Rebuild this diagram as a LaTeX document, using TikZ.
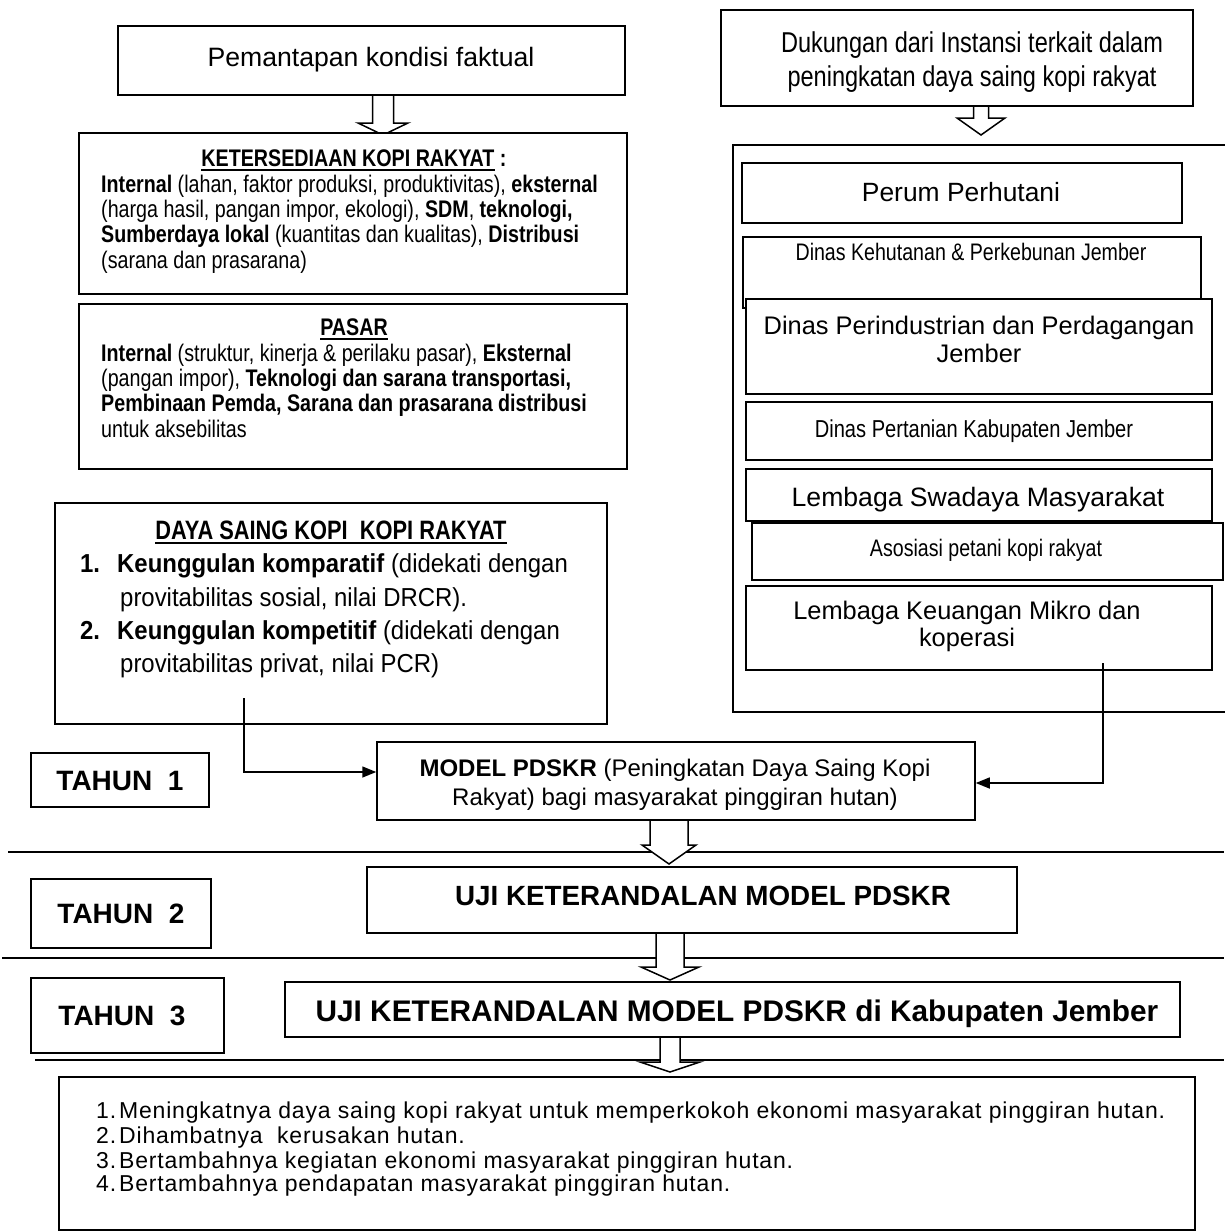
\documentclass[tikz,border=0pt]{standalone}
\usepackage{fontspec}
\setmainfont{Liberation Sans}
\newfontfamily\fN[FakeStretch=0.82]{Liberation Sans}
\newfontfamily\fM[FakeStretch=0.92]{Liberation Sans}
\newfontfamily\fS[LetterSpace=3.5]{Liberation Sans}
\usetikzlibrary{arrows.meta,fit}
\newcommand\fsz[1]{\fontsize{#1}{#1}\selectfont}
\newcommand\uline[1]{\leavevmode\vtop{\hbox{#1}\kern2.2pt\hrule height 1.6pt}}
\newcommand\harrow[6]{\draw[harr] (#1-#5,#2) -- (#1-#5,#3) -- (#1-#6,#3) -- (#1,#4) -- (#1+#6,#3) -- (#1+#5,#3) -- (#1+#5,#2);}
\begin{document}
\begin{tikzpicture}[x=1pt,y=-1pt,
  box/.style={draw, line width=1.5pt, inner sep=0pt, fill=white},
  txt/.style={inner sep=0pt, anchor=base},
  ltxt/.style={inner sep=0pt, anchor=base west},
  harr/.style={draw, line width=1.5pt, fill=white, line join=miter},
  conn/.style={line width=1.5pt, -{Triangle[length=14pt,width=11pt]}},
  rule/.style={line width=1.5pt}]
\path[use as bounding box, fill=white] (0,0) rectangle (1224,1232);

% horizontal rules
\draw[rule] (8,852) -- (1224,852);
\draw[rule] (2,958) -- (1224,958);
\draw[rule] (35,1060) -- (1224,1060);

% hollow block arrows
\harrow{383}{94}{123}{135}{10.5}{25}
\harrow{981}{106}{118}{135}{7.5}{24}
\harrow{669}{820}{845}{864}{19}{27}
\harrow{670}{933}{967}{980}{14}{29}
\harrow{670}{1037}{1062}{1072}{10}{30}

% ---------------- left column ----------------
\node[box, fit={(118,26)(625,95)}] (A) {};
\node[txt] (At) at (371,66.6) {\fsz{26.6}Pemantapan kondisi faktual};

\node[box, fit={(79,133)(627,294)}] (B) {};
\node[txt] (Bt) at (354,166.6) {\fN\fsz{24}\bfseries\uline{KETERSEDIAAN KOPI RAKYAT} :};
\node[ltxt] (B1) at (101,192.6) {\fN\fsz{24}\textbf{Internal} (lahan, faktor produksi, produktivitas), \textbf{eksternal}};
\node[ltxt] (B2) at (101,217.6) {\fN\fsz{24}(harga hasil, pangan impor, ekologi), \textbf{SDM}, \textbf{teknologi,}};
\node[ltxt] (B3) at (101,242.6) {\fN\fsz{24}\textbf{Sumberdaya lokal} (kuantitas dan kualitas), \textbf{Distribusi}};
\node[ltxt] (B4) at (101,268.6) {\fN\fsz{24}(sarana dan prasarana)};

\node[box, fit={(79,304)(627,469)}] (C) {};
\node[txt] (Ct) at (354,335.6) {\fN\fsz{24}\bfseries\uline{PASAR}};
\node[ltxt] (C1) at (101,361.6) {\fN\fsz{24}\textbf{Internal} (struktur, kinerja \& perilaku pasar), \textbf{Eksternal}};
\node[ltxt] (C2) at (101,386.6) {\fN\fsz{24}(pangan impor), \textbf{Teknologi dan sarana transportasi,}};
\node[ltxt] (C3) at (101,411.6) {\fN\fsz{24}\textbf{Pembinaan Pemda, Sarana dan prasarana distribusi}};
\node[ltxt] (C4) at (101,437.6) {\fN\fsz{24}untuk aksebilitas};

\node[box, fit={(55,503)(607,724)}] (D) {};
\node[txt] (Dt) at (331,539.6) {\fN\fsz{26.6}\bfseries\uline{DAYA SAING KOPI\ \ KOPI RAKYAT}};
\node[ltxt] (D1n) at (80,572.4) {\fM\fsz{26}\textbf{1.}};
\node[ltxt] (D1) at (117,572.4) {\fM\fsz{26}\textbf{Keunggulan komparatif} (didekati dengan};
\node[ltxt] (D2) at (120,606.4) {\fM\fsz{26}provitabilitas sosial, nilai DRCR).};
\node[ltxt] (D3n) at (80,639.4) {\fM\fsz{26}\textbf{2.}};
\node[ltxt] (D3) at (117,639.4) {\fM\fsz{26}\textbf{Keunggulan kompetitif} (didekati dengan};
\node[ltxt] (D4) at (120,672.4) {\fM\fsz{26}provitabilitas privat, nilai PCR)};

% ---------------- right column ----------------
\node[box, fit={(721,10)(1193,106)}] (E) {};
\node[txt] (Et1) at (972,52.3) {\fN\fsz{28.7}Dukungan dari Instansi terkait dalam};
\node[txt] (Et2) at (972,86.3) {\fN\fsz{28.7}peningkatan daya saing kopi rakyat};

\node[box, fit={(733,145)(1232,712)}] (F) {};
\node[box, fit={(742,163)(1182,223)}] (P1) {};
\node[txt] (P1t) at (961,201.5) {\fsz{26.4}Perum Perhutani};
\node[box, fit={(743,237)(1201,308)}] (P2) {};
\node[txt] (P2t) at (971,260.6) {\fN\fsz{23.9}Dinas Kehutanan \& Perkebunan Jember};
\node[box, fit={(746,299)(1212,394)}] (P3) {};
\node[txt] (P3t1) at (979,334) {\fsz{25.4}Dinas Perindustrian dan Perdagangan};
\node[txt] (P3t2) at (979,362) {\fsz{25.4}Jember};
\node[box, fit={(746,402)(1212,460)}] (P4) {};
\node[txt] (P4t) at (974,437.8) {\fN\fsz{24.5}Dinas Pertanian Kabupaten Jember};
\node[box, fit={(746,469)(1212,521)}] (P5) {};
\node[txt] (P5t) at (978,506.6) {\fsz{26.6}Lembaga Swadaya Masyarakat};
\node[box, fit={(752,523)(1223,580)}] (P6) {};
\node[txt] (P6t) at (986,556.6) {\fN\fsz{23.9}Asosiasi petani kopi rakyat};
\node[box, fit={(746,586)(1212,670)}] (P7) {};
\node[txt] (P7t1) at (967,619) {\fsz{25.4}Lembaga Keuangan Mikro dan};
\node[txt] (P7t2) at (967,646) {\fsz{25.4}koperasi};

% ---------------- model and years ----------------
\node[box, fit={(377,742)(975,820)}] (M) {};
\node[txt] (Mt1) at (675,776.6) {\fsz{24}\textbf{MODEL PDSKR} (Peningkatan Daya Saing Kopi};
\node[txt] (Mt2) at (675,805.6) {\fsz{24}Rakyat) bagi masyarakat pinggiran hutan)};

\node[box, fit={(31,753)(209,807)}] (T1) {};
\node[txt] (T1t) at (120,790) {\fsz{28}\bfseries TAHUN\ \ 1};
\node[box, fit={(31,879)(211,948)}] (T2) {};
\node[txt] (T2t) at (121,923.5) {\fsz{28}\bfseries TAHUN\ \ 2};
\node[box, fit={(31,978)(224,1053)}] (T3) {};
\node[txt] (T3t) at (122,1025) {\fsz{28}\bfseries TAHUN\ \ 3};

\node[box, fit={(367,867)(1017,933)}] (U1) {};
\node[txt] (U1t) at (703,905) {\fsz{27.8}\bfseries UJI KETERANDALAN MODEL PDSKR};
\node[box, fit={(285,982)(1180,1037)}] (U2) {};
\node[txt] (U2t) at (737,1021.7) {\fsz{29.8}\bfseries UJI KETERANDALAN MODEL PDSKR di Kabupaten Jember};

\node[box, fit={(59,1077)(1195,1230)}] (R) {};
\node[ltxt] (R1n) at (96,1118.3) {\fS\fsz{23}1.};
\node[ltxt] (R1) at (119,1118.3) {\fS\fsz{23}Meningkatnya daya saing kopi rakyat untuk memperkokoh ekonomi masyarakat pinggiran hutan.};
\node[ltxt] (R2n) at (96,1143.3) {\fS\fsz{23}2.};
\node[ltxt] (R2) at (119,1143.3) {\fS\fsz{23}Dihambatnya\ \ kerusakan hutan.};
\node[ltxt] (R3n) at (96,1168.3) {\fS\fsz{23}3.};
\node[ltxt] (R3) at (119,1168.3) {\fS\fsz{23}Bertambahnya kegiatan ekonomi masyarakat pinggiran hutan.};
\node[ltxt] (R4n) at (96,1191.3) {\fS\fsz{23}4.};
\node[ltxt] (R4) at (119,1191.3) {\fS\fsz{23}Bertambahnya pendapatan masyarakat pinggiran hutan.};

% ---------------- connectors ----------------
\coordinate (dsrc) at (244,698);
\coordinate (ksrc) at (1103,663);
\draw[conn] (dsrc) |- ([yshift=9pt]M.west);
\draw[conn] (ksrc) |- ([yshift=-2pt]M.east);
\end{tikzpicture}
\end{document}
